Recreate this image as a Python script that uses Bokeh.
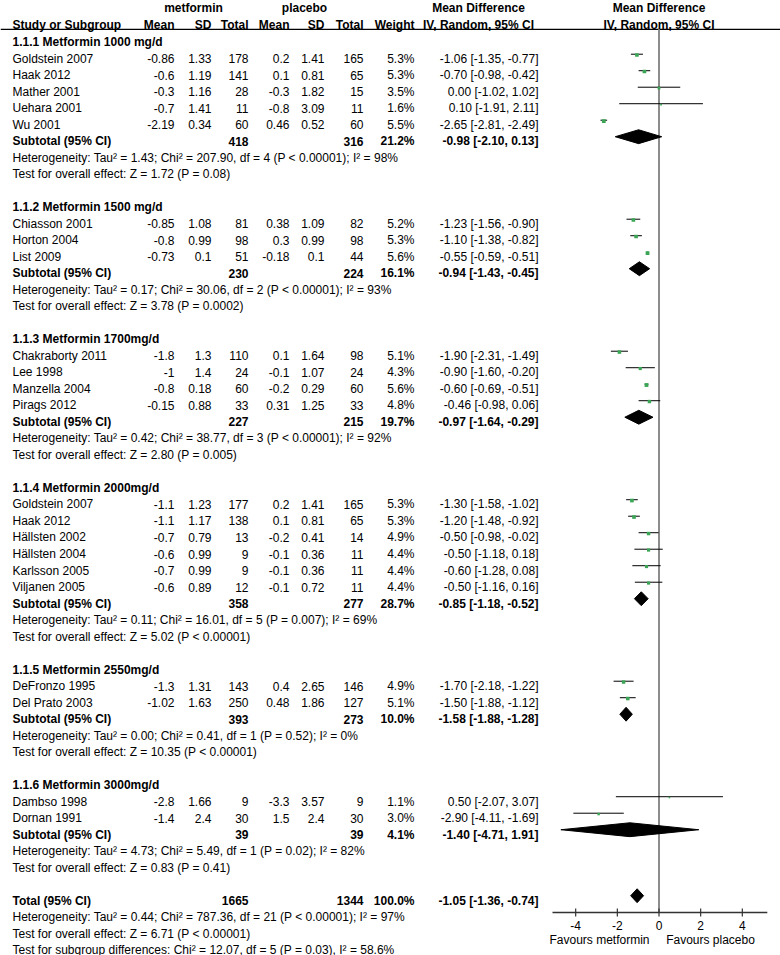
from bokeh.plotting import figure
from bokeh.models import ColumnDataSource, Range1d
from bokeh.core.properties import value
from bokeh.embed import file_html
from bokeh.resources import INLINE

# ---------------- data ----------------
group_titles = ["1.1.1 Metformin 1000 mg/d", "1.1.2 Metformin 1500 mg/d", "1.1.3 Metformin 1700mg/d",
                "1.1.4 Metformin 2000mg/d", "1.1.5 Metformin 2550mg/d", "1.1.6 Metformin 3000mg/d"]

study_names = ["Goldstein 2007", "Haak 2012", "Mather 2001", "Uehara 2001", "Wu 2001",
               "Chiasson 2001", "Horton 2004", "List 2009",
               "Chakraborty 2011", "Lee 1998", "Manzella 2004", "Pirags 2012",
               "Goldstein 2007", "Haak 2012", "Hällsten 2002", "Hällsten 2004", "Karlsson 2005", "Viljanen 2005",
               "DeFronzo 1995", "Del Prato 2003",
               "Dambso 1998", "Dornan 1991"]
study_group = [0, 0, 0, 0, 0, 1, 1, 1, 2, 2, 2, 2, 3, 3, 3, 3, 3, 3, 4, 4, 5, 5]
met_mean = [-0.86, -0.6, -0.3, -0.7, -2.19, -0.85, -0.8, -0.73, -1.8, -1, -0.8, -0.15,
            -1.1, -1.1, -0.7, -0.6, -0.7, -0.6, -1.3, -1.02, -2.8, -1.4]
met_sd = [1.33, 1.19, 1.16, 1.41, 0.34, 1.08, 0.99, 0.1, 1.3, 1.4, 0.18, 0.88,
          1.23, 1.17, 0.79, 0.99, 0.99, 0.89, 1.31, 1.63, 1.66, 2.4]
met_n = [178, 141, 28, 11, 60, 81, 98, 51, 110, 24, 60, 33, 177, 138, 13, 9, 9, 12, 143, 250, 9, 30]
pla_mean = [0.2, 0.1, -0.3, -0.8, 0.46, 0.38, 0.3, -0.18, 0.1, -0.1, -0.2, 0.31,
            0.2, 0.1, -0.2, -0.1, -0.1, -0.1, 0.4, 0.48, -3.3, 1.5]
pla_sd = [1.41, 0.81, 1.82, 3.09, 0.52, 1.09, 0.99, 0.1, 1.64, 1.07, 0.29, 1.25,
          1.41, 0.81, 0.41, 0.36, 0.36, 0.72, 2.65, 1.86, 3.57, 2.4]
pla_n = [165, 65, 15, 11, 60, 82, 98, 44, 98, 24, 60, 33, 165, 65, 14, 11, 11, 11, 146, 127, 9, 30]
weight = [5.3, 5.3, 3.5, 1.6, 5.5, 5.2, 5.3, 5.6, 5.1, 4.3, 5.6, 4.8,
          5.3, 5.3, 4.9, 4.4, 4.4, 4.4, 4.9, 5.1, 1.1, 3.0]
md = [-1.06, -0.70, 0.00, 0.10, -2.65, -1.23, -1.10, -0.55, -1.90, -0.90, -0.60, -0.46,
      -1.30, -1.20, -0.50, -0.50, -0.60, -0.50, -1.70, -1.50, 0.50, -2.90]
md_lo = [-1.35, -0.98, -1.02, -1.91, -2.81, -1.56, -1.38, -0.59, -2.31, -1.60, -0.69, -0.98,
         -1.58, -1.48, -0.98, -1.18, -1.28, -1.16, -2.18, -1.88, -2.07, -4.11]
md_hi = [-0.77, -0.42, 1.02, 2.11, -2.49, -0.90, -0.82, -0.51, -1.49, -0.20, -0.51, 0.06,
         -1.02, -0.92, -0.02, 0.18, 0.08, 0.16, -1.22, -1.12, 3.07, -1.69]

sub_met_n = [418, 230, 227, 358, 393, 39]
sub_pla_n = [316, 224, 215, 277, 273, 39]
sub_weight = [21.2, 16.1, 19.7, 28.7, 10.0, 4.1]
sub_md = [-0.98, -0.94, -0.97, -0.85, -1.58, -1.40]
sub_lo = [-2.10, -1.43, -1.64, -1.18, -1.88, -4.71]
sub_hi = [0.13, -0.45, -0.29, -0.52, -1.28, 1.91]
het_tau2 = [1.43, 0.17, 0.42, 0.11, 0.00, 4.73]
het_chi2 = [207.90, 30.06, 38.77, 16.01, 0.41, 5.49]
het_df = [4, 2, 3, 5, 1, 1]
het_p = ["P < 0.00001", "P < 0.00001", "P < 0.00001", "P = 0.007", "P = 0.52", "P = 0.02"]
het_i2 = [98, 93, 92, 69, 0, 82]
eff_z = [1.72, 3.78, 2.80, 5.02, 10.35, 0.83]
eff_p = ["P = 0.08", "P = 0.0002", "P = 0.005", "P < 0.00001", "P < 0.00001", "P = 0.41"]

total_met_n = 1665
total_pla_n = 1344
total_weight = 100.0
total_md = -1.05
total_lo = -1.36
total_hi = -0.74
total_tau2 = 0.44
total_chi2 = 787.36
total_df = 21
total_het_p = "P < 0.00001"
total_i2 = 97
total_z = 6.71
total_z_p = "P < 0.00001"
subgroup_test = "Test for subgroup differences: Chi² = 12.07, df = 5 (P = 0.03), I² = 58.6%"

ticks = [-4, -2, 0, 2, 4]
favours = ["Favours metformin", "Favours placebo"]

# ---------------- layout (pixel columns of the table) ----------------
FONT = value("Liberation Sans")
X_LABEL = 12
X_MMEAN, X_MSD, X_MN = 174, 211, 248
X_PMEAN, X_PSD, X_PN = 289, 324, 363
X_W, X_MD = 414, 538
X_MD_HDR = 478
X_MET_HDR, X_PLA_HDR = 193, 304
X_FAV = [599, 710]
ROW_TOP, ROW_BOT = -3.545, 54.333
MARK_OFF = -0.29
UNDERLINE = -1.80
AXIS_ROW = 51.73
TICKLAB_ROW = 52.52
FAV_ROW = 53.42
HDR1_ROW, HDR2_ROW = -3.08, -2.05
TICK_HALF = 0.24
MD_RANGE = (-31.613, 5.833)
AXIS_BOUNDS = (-5.113, 5.2)

texts = {k: dict(x=[], y=[], t=[]) for k in
         [("left", "normal"), ("right", "normal"), ("center", "normal"),
          ("left", "bold"), ("right", "bold"), ("center", "bold")]}


def add(x, r, s, align="left", style="normal"):
    d = texts[(align, style)]
    d["x"].append(x)
    d["y"].append(r)
    d["t"].append(s)


def g(v):
    return f"{v:g}"


# headers
add(X_MET_HDR, HDR1_ROW, "metformin", "center", "bold")
add(X_PLA_HDR, HDR1_ROW, "placebo", "center", "bold")
add(X_MD_HDR, HDR1_ROW, "Mean Difference", "center", "bold")
add(X_LABEL, HDR2_ROW, "Study or Subgroup", "left", "bold")
for x, s in [(X_MMEAN, "Mean"), (X_MSD, "SD"), (X_MN, "Total"), (X_PMEAN, "Mean"),
             (X_PSD, "SD"), (X_PN, "Total"), (X_W, "Weight")]:
    add(x, HDR2_ROW, s, "right", "bold")
add(X_MD_HDR, HDR2_ROW, "IV, Random, 95% CI", "center", "bold")

study_rows = []
sub_rows = []
r = -1
for gi, title in enumerate(group_titles):
    add(X_LABEL, r, title, "left", "bold")
    r += 1
    for i, sg in enumerate(study_group):
        if sg != gi:
            continue
        add(X_LABEL, r, study_names[i])
        add(X_MMEAN, r, g(met_mean[i]), "right")
        add(X_MSD, r, g(met_sd[i]), "right")
        add(X_MN, r, str(met_n[i]), "right")
        add(X_PMEAN, r, g(pla_mean[i]), "right")
        add(X_PSD, r, g(pla_sd[i]), "right")
        add(X_PN, r, str(pla_n[i]), "right")
        add(X_W, r, f"{weight[i]:.1f}%", "right")
        add(X_MD, r, f"{md[i]:.2f} [{md_lo[i]:.2f}, {md_hi[i]:.2f}]", "right")
        study_rows.append(r)
        r += 1
    add(X_LABEL, r, "Subtotal (95% CI)", "left", "bold")
    add(X_MN, r, str(sub_met_n[gi]), "right", "bold")
    add(X_PN, r, str(sub_pla_n[gi]), "right", "bold")
    add(X_W, r, f"{sub_weight[gi]:.1f}%", "right", "bold")
    add(X_MD, r, f"{sub_md[gi]:.2f} [{sub_lo[gi]:.2f}, {sub_hi[gi]:.2f}]", "right", "bold")
    sub_rows.append(r)
    r += 1
    add(X_LABEL, r, f"Heterogeneity: Tau² = {het_tau2[gi]:.2f}; Chi² = {het_chi2[gi]:.2f}, "
                    f"df = {het_df[gi]} ({het_p[gi]}); I² = {het_i2[gi]}%")
    r += 1
    add(X_LABEL, r, f"Test for overall effect: Z = {eff_z[gi]:.2f} ({eff_p[gi]})")
    r += 2

total_row = r
add(X_LABEL, r, "Total (95% CI)", "left", "bold")
add(X_MN, r, str(total_met_n), "right", "bold")
add(X_PN, r, str(total_pla_n), "right", "bold")
add(X_W, r, f"{total_weight:.1f}%", "right", "bold")
add(X_MD, r, f"{total_md:.2f} [{total_lo:.2f}, {total_hi:.2f}]", "right", "bold")
add(X_LABEL, r + 1, f"Heterogeneity: Tau² = {total_tau2:.2f}; Chi² = {total_chi2:.2f}, "
                    f"df = {total_df} ({total_het_p}); I² = {total_i2}%")
add(X_LABEL, r + 2, f"Test for overall effect: Z = {total_z:.2f} ({total_z_p})")
add(X_LABEL, r + 3, subgroup_test)
for xf, s in zip(X_FAV, favours):
    add(xf, FAV_ROW, s, "center", "normal")

# ---------------- figure ----------------
p = figure(width=780, height=955, x_range=Range1d(0, 780), y_range=Range1d(ROW_BOT, ROW_TOP),
           x_axis_type=None, y_axis_type=None, toolbar_location=None, output_backend="svg",
           min_border=0, outline_line_color=None)
p.extra_x_ranges = {"md": Range1d(*MD_RANGE)}
p.grid.visible = False

for (align, style), d in texts.items():
    if not d["t"]:
        continue
    p.text(x="x", y="y", text="t", source=ColumnDataSource(d), text_align=align,
           text_baseline="middle", text_font=FONT, text_font_size="12px",
           text_font_style=style, text_color="#000000")

# header rule
p.segment(x0=[0], x1=[780], y0=[UNDERLINE], y1=[UNDERLINE], line_color="#000000", line_width=1.3)

# forest column header
for rr, s in [(HDR1_ROW, "Mean Difference"), (HDR2_ROW, "IV, Random, 95% CI")]:
    p.text(x=[0], y=[rr], text=[s], x_range_name="md", text_align="center", text_baseline="middle",
           text_font=FONT, text_font_size="12px", text_font_style="bold", text_color="#000000")

# line of no effect
p.segment(x0=[0], x1=[0], y0=[UNDERLINE], y1=[AXIS_ROW], x_range_name="md",
          line_color="#8c8c8c", line_width=2)

# study CIs and squares
ys = [v + MARK_OFF for v in study_rows]
p.segment(x0=md_lo, x1=md_hi, y0=ys, y1=ys, x_range_name="md", line_color="#000000", line_width=1)
p.scatter(x=md, y=[v + 0.05 for v in ys], x_range_name="md", marker="square",
          size=[1.0 + 0.5 * w for w in weight], fill_color="#3aa655", line_color=None)

# diamonds
dia_x, dia_y = [], []
H = 0.42
for gi, sr in enumerate(sub_rows):
    yc = sr + MARK_OFF
    dia_x.append([sub_lo[gi], sub_md[gi], sub_hi[gi], sub_md[gi]])
    dia_y.append([yc, yc - H, yc, yc + H])
yc = total_row + MARK_OFF
dia_x.append([total_lo, total_md, total_hi, total_md])
dia_y.append([yc, yc - H, yc, yc + H])
p.patches(xs=dia_x, ys=dia_y, x_range_name="md", fill_color="#000000", line_color="#000000", line_width=1)

# x axis (drawn on the md scale)
p.segment(x0=[AXIS_BOUNDS[0]], x1=[AXIS_BOUNDS[1]], y0=[AXIS_ROW], y1=[AXIS_ROW], x_range_name="md",
          line_color="#333333", line_width=1.5)
p.segment(x0=ticks, x1=ticks, y0=[AXIS_ROW - TICK_HALF] * len(ticks), y1=[AXIS_ROW + TICK_HALF] * len(ticks),
          x_range_name="md", line_color="#333333", line_width=1.2)
p.text(x=ticks, y=[TICKLAB_ROW] * len(ticks), text=[f"{t:g}" for t in ticks], x_range_name="md",
       text_align="center", text_baseline="middle", text_font=FONT, text_font_size="12px",
       text_color="#000000")

open("out.html", "w").write(file_html(p, INLINE))
